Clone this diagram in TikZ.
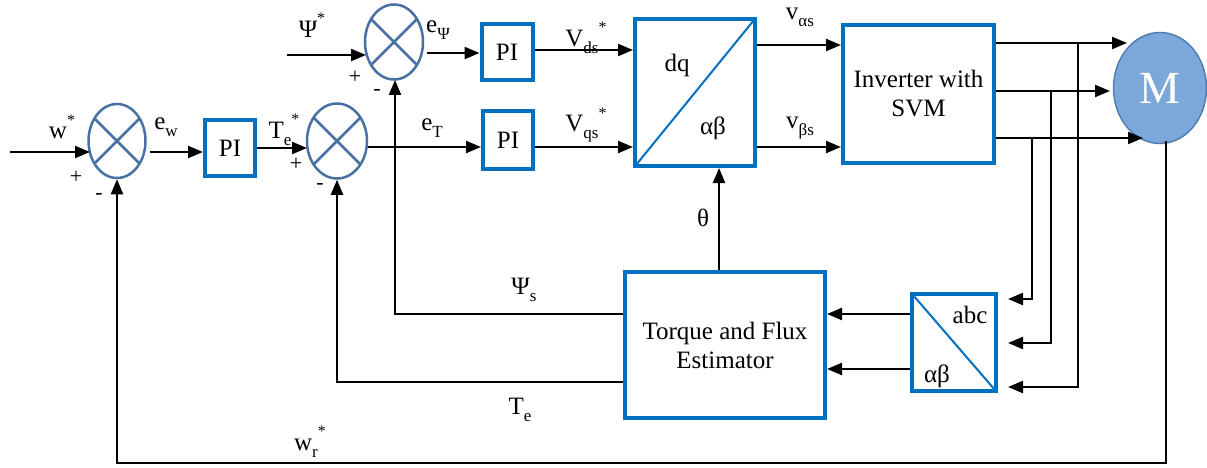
\documentclass[tikz,border=0pt]{standalone}
\usepackage{fontspec}
\setmainfont{Liberation Serif}
\usetikzlibrary{arrows.meta,shapes.geometric}
\definecolor{boxblue}{RGB}{0,112,192}
\definecolor{sumcol}{RGB}{72,112,162}
\definecolor{motfill}{RGB}{123,167,217}
\definecolor{motdraw}{RGB}{79,124,180}
\newcommand{\mysub}[1]{\raisebox{-0.28em}{\fontsize{17}{17}\selectfont #1}}
\newcommand{\mystar}{\raisebox{0.55em}{\fontsize{16}{16}\selectfont *}}
\begin{document}
\begin{tikzpicture}[x=1pt,y=-1pt,
  every node/.style={font=\rmfamily\fontsize{25}{29}\selectfont, inner sep=0pt},
  blk/.style={draw=boxblue, line width=4pt, fill=white, align=center},
  sumnode/.style={ellipse, draw=sumcol, line width=2.5pt, path picture={
      \draw[sumcol, line width=2.5pt] (path picture bounding box.center) ++(-45,-45) -- ++(90,90);
      \draw[sumcol, line width=2.5pt] (path picture bounding box.center) ++(-45,45) -- ++(90,-90);}},
  arr/.style={line width=2.3pt, -{Triangle[length=15pt,width=12pt]}},
  sgn/.style={font=\rmfamily\fontsize{22}{24}\selectfont},
  diag/.style={draw=boxblue, line width=2pt}
]
\useasboundingbox (0,0) rectangle (1207,468);

% summing junctions
\node[sumnode, minimum width=57pt, minimum height=74pt] (s1) at (117,141) {};
\node[sumnode, minimum width=60pt, minimum height=75pt] (s2) at (337,141) {};
\node[sumnode, minimum width=58pt, minimum height=75pt] (s3) at (394,42) {};

% blocks
\node[blk, minimum width=50pt, minimum height=56pt] (pi1) at (230,148) {PI};
\node[blk, minimum width=51pt, minimum height=56pt] (pi2) at (507,52) {PI};
\node[blk, minimum width=50pt, minimum height=57pt] (pi3) at (508,140) {PI};
\node[blk, minimum width=120pt, minimum height=147pt] (dq) at (695,92.5) {};
\node[blk, minimum width=151pt, minimum height=138pt] (inv) at (918.5,94) {Inverter with\\SVM};
\node[blk, minimum width=200pt, minimum height=146pt] (est) at (725,345) {Torque and Flux\\Estimator};
\node[blk, minimum width=84pt, minimum height=97pt] (abc) at (954,342.5) {};
\node[ellipse, draw=motdraw, line width=1.5pt, fill=motfill, minimum width=93pt, minimum height=111pt,
      text=white, font=\rmfamily\fontsize{46}{50}\selectfont] (mot) at (1160,88) {M};

% diagonals
\draw[diag] ([shift={(3,-3)}]dq.south west) -- ([shift={(-3,3)}]dq.north east);
\draw[diag] ([shift={(3,3)}]abc.north west) -- ([shift={(-3,-3)}]abc.south east);
\node at (677,65) {dq};
\node at (713,128) {αβ};
\node at (970,315) {abc};
\node at (937,376) {αβ};

% forward path
\coordinate (in1) at (10,152);
\draw[arr] (in1) -- (90,152);
\draw[arr] (150,152) -- (pi1.west |- 0,152);
\draw[arr] (pi1.east |- 0,148) -- (307,148);
\draw[arr] (s2.east |- 0,147) -- (pi3.west |- 0,147);
\coordinate (in3) at (287,55);
\draw[arr] (in3) -- (366,55);
\draw[arr] (427,53) -- (pi2.west |- 0,53);
\draw[arr] (pi2.east |- 0,50) -- (dq.west |- 0,50);
\draw[arr] (pi3.east |- 0,147) -- (dq.west |- 0,147);
\draw[arr] (dq.east |- 0,45) -- (inv.west |- 0,45);
\draw[arr] (dq.east |- 0,147) -- (inv.west |- 0,147);
\draw[arr] (inv.east |- 0,43) -- (1127,43);
\draw[arr] (inv.east |- 0,91) -- (1110,91);
\draw[arr] (inv.east |- 0,138) -- (1143,138);

% taps to abc
\coordinate (ta) at (1078,43);
\coordinate (tb) at (1051,91);
\coordinate (tc) at (1032,138);
\draw[arr] (ta) -- (1078,387) -- (1008,387);
\draw[arr] (tb) -- (1051,343) -- (1008,343);
\draw[arr] (tc) -- (1032,299) -- (1008,299);

% abc to estimator
\draw[arr] (abc.west |- 0,314) -- (est.east |- 0,314);
\draw[arr] (abc.west |- 0,369) -- (est.east |- 0,369);

% theta
\draw[arr] (est.north -| 719,0) -- (dq.south -| 719,0);
\node at (703,218) {θ};

% feedback
\coordinate (psc) at (395,314);
\draw[arr] (est.west |- psc) -- (psc) -- (395,80);
\coordinate (tec) at (337,382);
\draw[arr] (est.west |- tec) -- (tec) -- (s2.south);
\coordinate (mb) at (1166,141);
\coordinate (bc) at (1166,463);
\draw[arr] (mb) -- (bc) -- (117,463) -- (s1.south);

% labels
\node at (62,127) {w\mystar};
\node[sgn] at (76,177) {+};
\node[sgn] at (99,196) {-};
\node at (166,127) {e\mysub{w}};
\node at (284,130) {T\mysub{e}\mystar};
\node[sgn] at (296,164) {+};
\node[sgn] at (320,186) {-};
\node at (432,128) {e\mysub{T}};
\node at (312,25) {Ψ\mystar};
\node[sgn] at (355,77) {+};
\node[sgn] at (377,92) {-};
\node at (438,30) {e\mysub{Ψ}};
\node at (586,38) {V\mysub{ds}\mystar};
\node at (586,125) {V\mysub{qs}\mystar};
\node at (800,17) {v\mysub{αs}};
\node at (800,128) {v\mysub{βs}};
\node at (524,290) {Ψ\mysub{s}};
\node at (520,410) {T\mysub{e}};
\node at (310,442) {w\mysub{r}\mystar};
\end{tikzpicture}
\end{document}
